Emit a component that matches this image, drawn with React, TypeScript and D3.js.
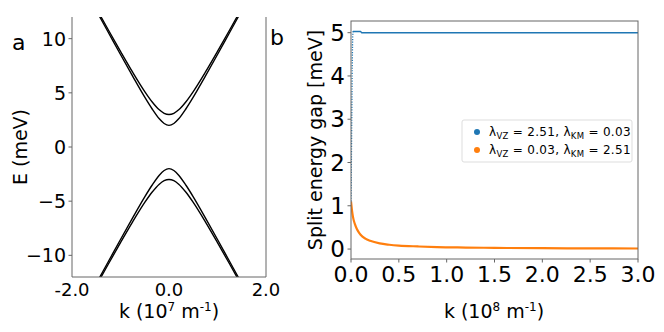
import React from "react";
import * as d3 from "d3";

// panel a: band energies (meV) vs k (10^7 m^-1)
const kBand = [-1.5, -1.25, -1.0, -0.75, -0.5, -0.35, -0.2, -0.1, 0, 0.1, 0.2, 0.35, 0.5, 0.75, 1.0, 1.25, 1.5];
const upperOuter = [12.8, 10.8, 8.83, 6.91, 5.12, 4.18, 3.43, 3.11, 3.0, 3.11, 3.43, 4.18, 5.12, 6.91, 8.83, 10.8, 12.8];
const upperInner = [12.6, 10.57, 8.54, 6.54, 4.6, 3.53, 2.6, 2.17, 2.0, 2.17, 2.6, 3.53, 4.6, 6.54, 8.54, 10.57, 12.6];
const lowerInner = [-12.6, -10.57, -8.54, -6.54, -4.6, -3.53, -2.6, -2.17, -2.0, -2.17, -2.6, -3.53, -4.6, -6.54, -8.54, -10.57, -12.6];
const lowerOuter = [-12.8, -10.8, -8.83, -6.91, -5.12, -4.18, -3.43, -3.11, -3.0, -3.11, -3.43, -4.18, -5.12, -6.91, -8.83, -10.8, -12.8];
const aTicksX = [-2, 0, 2];
const aTicksY = [-10, -5, 0, 5, 10];

// panel b: split energy gap (meV) vs k (10^8 m^-1)
const blueRiseK = [0, 0.004, 0.008, 0.012, 0.016, 0.02];
const blueRiseV = [1.1, 2.0, 3.0, 4.0, 4.7, 5.03];
const blueFlatK = [0.02, 0.1, 0.11, 3.0];
const blueFlatV = [5.03, 5.03, 5.0, 5.0];
const orangeK = [0, 0.01, 0.02, 0.04, 0.06, 0.08, 0.1, 0.15, 0.2, 0.3, 0.4, 0.5, 0.7, 0.9, 1.2, 1.5, 2.0, 2.5, 3.0];
const orangeV = [1.1, 0.9, 0.75, 0.58, 0.47, 0.39, 0.33, 0.24, 0.19, 0.13, 0.1, 0.08, 0.06, 0.045, 0.035, 0.027, 0.02, 0.016, 0.013];
const bTicksX = [0, 0.5, 1.0, 1.5, 2.0, 2.5, 3.0];
const bTicksY = [0, 1, 2, 3, 4, 5];

const font = "DejaVu Sans, sans-serif";
const spine = "#666";

const App = () => {
  // panel a geometry
  const xa = d3.scaleLinear().domain([-2, 2]).range([72, 266]);
  const ya = d3.scaleLinear().domain([-12, 12]).range([277, 17]);
  const bandLine = d3.line<number>()
    .x((_, i) => xa(kBand[i]))
    .y(d => ya(d))
    .curve(d3.curveMonotoneX);

  // panel b geometry
  const xb = d3.scaleLinear().domain([0, 3]).range([351, 638]);
  const yb = d3.scaleLinear().domain([-0.23, 5.27]).range([259, 21]);
  const mk = (ks: number[]) => d3.line<number>()
    .x((_, i) => xb(ks[i]))
    .y(d => yb(d))
    .curve(d3.curveMonotoneX);

  const fmtMinus = (v: number) => (v < 0 ? "\u2212" + Math.abs(v) : String(v));

  return (
    <svg width={664} height={332} style={{ position: "fixed", left: 0, top: 0, background: "#fff" }} fontFamily={font}>
      <defs>
        <clipPath id="clipA">
          <rect x={72} y={17} width={194} height={260} />
        </clipPath>
        <clipPath id="clipB">
          <rect x={351} y={21} width={287} height={238} />
        </clipPath>
      </defs>

      {/* panel a */}
      <text x={12} y={50} fontSize={22}>a</text>
      <g clipPath="url(#clipA)">
        {[upperOuter, upperInner, lowerInner, lowerOuter].map((s, i) => (
          <path key={i} d={bandLine(s) || ""} fill="none" stroke="#000" strokeWidth={1.4} />
        ))}
      </g>
      <line x1={72} x2={72} y1={17} y2={277} stroke={spine} strokeWidth={1} />
      <line x1={266} x2={266} y1={17} y2={277} stroke={spine} strokeWidth={1} />
      <line x1={72} x2={266} y1={277} y2={277} stroke={spine} strokeWidth={1} />
      {aTicksY.map(t => (
        <g key={t}>
          <line x1={68.5} x2={72} y1={ya(t)} y2={ya(t)} stroke={spine} />
          <text x={66} y={ya(t)} dy="0.36em" textAnchor="end" fontSize={19}>{fmtMinus(t)}</text>
        </g>
      ))}
      {aTicksX.map(t => (
        <text key={t} x={xa(t)} y={296} textAnchor="middle" fontSize={18}>{t.toFixed(1)}</text>
      ))}
      <text x={169} y={318} textAnchor="middle" fontSize={19}>
        k (10<tspan fontSize={12} dy={-7}>7</tspan><tspan dy={7}> m</tspan><tspan fontSize={12} dy={-7}>-1</tspan><tspan dy={7}>)</tspan>
      </text>
      <text transform={`translate(27,${ya(0)}) rotate(-90)`} textAnchor="middle" fontSize={19}>E (meV)</text>

      {/* panel b */}
      <text x={270} y={45} fontSize={22}>b</text>
      <g clipPath="url(#clipB)">
        <path d={mk(orangeK)(orangeV) || ""} fill="none" stroke="#ff7f0e" strokeWidth={2.2} />
        <path d={mk(blueRiseK)(blueRiseV) || ""} fill="none" stroke="#1f77b4" strokeWidth={1.3} strokeDasharray="1.2,1.4" />
        <path d={mk(blueFlatK)(blueFlatV) || ""} fill="none" stroke="#1f77b4" strokeWidth={1.5} />
      </g>
      <rect x={351} y={21} width={287} height={238} fill="none" stroke={spine} strokeWidth={1} />
      {bTicksY.map(t => (
        <g key={t}>
          <line x1={347.5} x2={351} y1={yb(t)} y2={yb(t)} stroke={spine} />
          <text x={345} y={yb(t)} dy="0.35em" textAnchor="end" fontSize={23}>{t}</text>
        </g>
      ))}
      {bTicksX.map(t => (
        <g key={t}>
          <line x1={xb(t)} x2={xb(t)} y1={259} y2={262.5} stroke={spine} />
          <text x={xb(t)} y={282} textAnchor="middle" fontSize={22}>{t.toFixed(1)}</text>
        </g>
      ))}
      <text x={494} y={318} textAnchor="middle" fontSize={19}>
        k (10<tspan fontSize={12} dy={-7}>8</tspan><tspan dy={7}> m</tspan><tspan fontSize={12} dy={-7}>-1</tspan><tspan dy={7}>)</tspan>
      </text>
      <text transform={`translate(322,${(21 + 259) / 2}) rotate(-90)`} textAnchor="middle" fontSize={19}>Split energy gap [meV]</text>

      {/* legend */}
      <rect x={462} y={120} width={170} height={42} rx={2} fill="#fff" fillOpacity={0.8} stroke="#ddd" />
      {[
        { c: "#1f77b4", a: "2.51", b: "0.03" },
        { c: "#ff7f0e", a: "0.03", b: "2.51" },
      ].map((e, i) => (
        <g key={i} transform={`translate(0,${132 + i * 18})`}>
          <circle cx={477} cy={0} r={3} fill={e.c} />
          <text x={489} y={0} dy="0.36em" fontSize={12} letterSpacing={0.3}>
            λ<tspan fontSize={8.5} dy={3}>VZ</tspan><tspan dy={-3}>{` = ${e.a}, λ`}</tspan><tspan fontSize={8.5} dy={3}>KM</tspan><tspan dy={-3}>{` = ${e.b}`}</tspan>
          </text>
        </g>
      ))}
    </svg>
  );
};

export default App;
